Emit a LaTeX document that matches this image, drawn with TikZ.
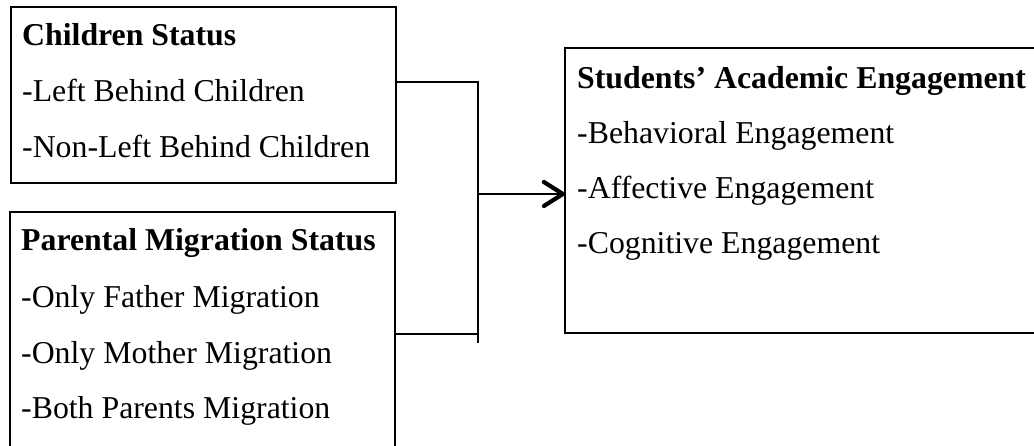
\documentclass[tikz,border=0pt]{standalone}
\usepackage{fontspec}
\setmainfont{Liberation Serif}
\usetikzlibrary{arrows.meta}
\begin{document}
\begin{tikzpicture}[x=1pt,y=-1pt,
  box/.style={draw=black,line width=1.1pt,inner sep=0pt,outer sep=0pt},
  txt/.style={anchor=base west,inner sep=0pt,font=\fontsize{31.8}{31.8}\selectfont},
  ttl/.style={txt,font=\fontsize{31.8}{31.8}\selectfont\bfseries},
  conn/.style={line width=1.1pt},
  arr/.style={line width=2.2pt,-{Straight Barb[length=19pt,width=24pt,line width=4.2pt,round]}}]
\useasboundingbox (0,0) rectangle (1034,445);
\fill[white] (0,0) rectangle (1034,445);
% boxes
\node[box,minimum width=385pt,minimum height=176pt] (b1) at (203.5,95) {};
\node[box,minimum width=385pt,minimum height=248pt] (b2) at (202.5,336) {};
\node[box,minimum width=475pt,minimum height=285pt] (b3) at (802.5,190.5) {};
% texts
\node[ttl] (t1) at (22,45) {Children Status};
\node[txt] (t1a) at (22,101) {-Left Behind Children};
\node[txt] (t1b) at (22,157) {-Non-Left Behind Children};
\node[ttl] (t2) at (21,250) {Parental Migration Status};
\node[txt] (t2a) at (21,307) {-Only Father Migration};
\node[txt] (t2b) at (21,363) {-Only Mother Migration};
\node[txt] (t2c) at (21,418) {-Both Parents Migration};
\node[ttl] (t3) at (577,88) {Students’ Academic Engagement};
\node[txt] (t3a) at (577,143) {-Behavioral Engagement};
\node[txt] (t3b) at (577,198) {-Affective Engagement};
\node[txt] (t3c) at (577,253) {-Cognitive Engagement};
% connectors
\coordinate (jt) at (478,82);
\coordinate (jb) at (478,334);
\coordinate (jend) at (478,343);
\coordinate (jm) at (478,194);
\draw[conn] (b1.east |- jt) -- (jt) -- (jend);
\draw[conn] (b2.east |- jb) -- (jb);
\draw[arr] (jm) -- (b3.west |- jm);
\end{tikzpicture}
\end{document}
